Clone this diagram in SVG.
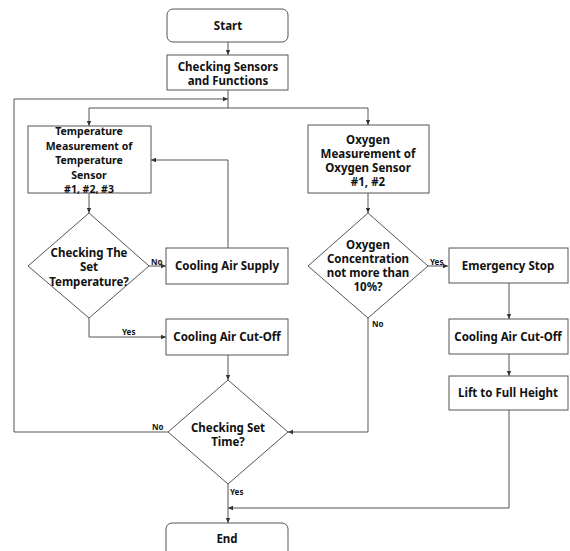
<svg xmlns="http://www.w3.org/2000/svg" width="570" height="551" viewBox="0 0 570 551">
<style>
.n{fill:#fff;stroke:#555;stroke-width:1}
.t{font-family:"Noto Sans","DejaVu Sans",sans-serif;font-weight:bold;font-size:11.5px;fill:#111;text-anchor:middle}
.s{font-size:10.5px}
.l{font-family:"Noto Sans","DejaVu Sans",sans-serif;font-weight:bold;font-size:8px;fill:#111}
.c{fill:none;stroke:#555;stroke-width:1}
</style>
<defs>
<marker id="a" markerWidth="6" markerHeight="6" refX="5" refY="3" orient="auto" markerUnits="userSpaceOnUse">
<path d="M0,0.8 L5,3 L0,5.2 Z" fill="#333"/>
</marker>
</defs>
<rect width="570" height="551" fill="#fff"/>
<g id="connectors">
<path class="c" d="M228,42 V55" marker-end="url(#a)"/>
<path class="c" d="M228,90 V108"/>
<path class="c" d="M89,108 H368"/>
<path class="c" d="M89,108 V126" marker-end="url(#a)"/>
<path class="c" d="M368,108 V125" marker-end="url(#a)"/>
<path class="c" d="M168,432 H14 V99 H228" marker-end="url(#a)"/>
<path class="c" d="M89,193 V213" marker-end="url(#a)"/>
<path class="c" d="M149,266 H166" marker-end="url(#a)"/>
<path class="c" d="M228,248 V160 H151" marker-end="url(#a)"/>
<path class="c" d="M89,318 V337 H166" marker-end="url(#a)"/>
<path class="c" d="M228,355 V380" marker-end="url(#a)"/>
<path class="c" d="M368,193 V213" marker-end="url(#a)"/>
<path class="c" d="M428,266 H448" marker-end="url(#a)"/>
<path class="c" d="M368,318 V432 H288" marker-end="url(#a)"/>
<path class="c" d="M509,283 V319" marker-end="url(#a)"/>
<path class="c" d="M509,354 V376" marker-end="url(#a)"/>
<path class="c" d="M509,410 V508 H228" marker-end="url(#a)"/>
<path class="c" d="M228,484 V523" marker-end="url(#a)"/>
<text class="l" x="151" y="265">No</text>
<text class="l" x="122" y="335">Yes</text>
<text class="l" x="430" y="265">Yes</text>
<text class="l" x="372" y="327">No</text>
<text class="l" x="152" y="430">No</text>
<text class="l" x="230" y="495">Yes</text>
</g>
<g id="start">
<rect class="n" x="167" y="9" width="121" height="33" rx="6"/>
<text class="t" x="228" y="30">Start</text>
</g>
<g id="check-sensors">
<rect class="n" x="167" y="55" width="121" height="35"/>
<text class="t" x="228" y="71">Checking Sensors</text>
<text class="t" x="228" y="85">and Functions</text>
</g>
<g id="temp-measure">
<rect class="n" x="28" y="126" width="123" height="67"/>
<text class="t s" x="89" y="135">Temperature</text>
<text class="t s" x="89" y="149.5">Measurement of</text>
<text class="t s" x="89" y="164">Temperature</text>
<text class="t s" x="89" y="178.5">Sensor</text>
<text class="t s" x="89" y="193">#1, #2, #3</text>
</g>
<g id="check-temp">
<path class="n" d="M89,213 L149,266 L89,318 L28,266 Z"/>
<text class="t" x="89" y="257">Checking The</text>
<text class="t" x="89" y="271">Set</text>
<text class="t" x="89" y="286">Temperature?</text>
</g>
<g id="cooling-supply">
<rect class="n" x="166" y="248" width="122" height="36"/>
<text class="t" x="227" y="270">Cooling Air Supply</text>
</g>
<g id="cooling-cutoff-1">
<rect class="n" x="166" y="319" width="122" height="36"/>
<text class="t" x="227" y="341">Cooling Air Cut-Off</text>
</g>
<g id="oxygen-measure">
<rect class="n" x="308" y="125" width="121" height="68"/>
<text class="t" x="368" y="144">Oxygen</text>
<text class="t" x="368" y="158">Measurement of</text>
<text class="t" x="368" y="172">Oxygen Sensor</text>
<text class="t" x="368" y="186">#1, #2</text>
</g>
<g id="check-oxygen">
<path class="n" d="M368,213 L428,266 L368,318 L308,266 Z"/>
<text class="t" x="368" y="249">Oxygen</text>
<text class="t" x="368" y="263">Concentration</text>
<text class="t" x="368" y="277">not more than</text>
<text class="t" x="368" y="291">10%?</text>
</g>
<g id="emergency-stop">
<rect class="n" x="449" y="248" width="119" height="35"/>
<text class="t" x="508" y="270">Emergency Stop</text>
</g>
<g id="cooling-cutoff-2">
<rect class="n" x="449" y="319" width="119" height="35"/>
<text class="t" x="508" y="341">Cooling Air Cut-Off</text>
</g>
<g id="lift">
<rect class="n" x="449" y="376" width="119" height="34"/>
<text class="t" x="508" y="397">Lift to Full Height</text>
</g>
<g id="check-time">
<path class="n" d="M228,380 L288,432 L228,484 L168,432 Z"/>
<text class="t" x="228" y="432">Checking Set</text>
<text class="t" x="228" y="446">Time?</text>
</g>
<g id="end">
<rect class="n" x="166" y="523" width="122" height="34" rx="6"/>
<text class="t" x="227" y="543">End</text>
</g>
</svg>
